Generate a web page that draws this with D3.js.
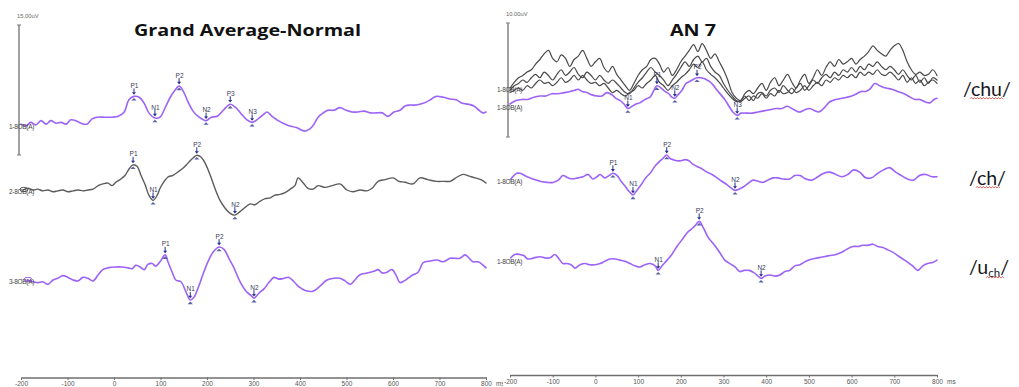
<!DOCTYPE html>
<html>
<head>
<meta charset="utf-8">
<script src="https://cdn.jsdelivr.net/npm/d3@7"></script>
<style>
  body { margin: 0; background: #fff; }
  svg { display: block; }
</style>
</head>
<body>
<svg id="chart" width="1019" height="387"></svg>
<script>
// ---------- time axis ----------
const timeTicks = [-200, -100, 0, 100, 200, 300, 400, 500, 600, 700, 800];
const timeTickLabels = ["-200", "-100", "0", "100", "200", "300", "400", "500", "600", "700", "800"];

// ---------- Grand Average-Normal : [ms, uV] ----------
const gaChannel1 = [[-200,0.1],[-189,-0.1],[-179,0.3],[-168,0],[-157,0.5],[-146,0.1],[-136,0.5],[-125,0.2],[-114,0.3],[-103,0.1],[-93,0.6],[-82,0.5],[-71,0.2],[-58,0.1],[-47,0.7],[-37,0.9],[-19,0.9],[-4,0.9],[9,1.0],[22,1.5],[32,2.9],[43,3.3],[54,3.2],[65,2.5],[75,1.4],[88,0.8],[99,0.9],[110,2.0],[121,3.2],[131,4.0],[140,4.5],[148,4.0],[159,2.7],[170,1.6],[183,0.9],[198,0.5],[209,0.9],[222,1.0],[235,1.7],[250,2.4],[262,2.0],[275,1.2],[286,0.6],[297,0.3],[310,0.7],[321,1.2],[329,1.5],[340,1.0],[353,0.5],[372,0],[392,-0.3],[411,-0.7],[426,-0.2],[439,0.9],[450,1.4],[460,1.7],[473,1.7],[486,2.0],[499,1.7],[512,1.5],[525,1.5],[538,1.6],[551,1.4],[564,1.4],[577,1.4],[589,1.0],[602,1.5],[615,1.7],[626,2.2],[637,2.3],[650,2.3],[665,2.5],[680,2.9],[693,3.3],[708,3.2],[723,3.0],[736,2.9],[749,2.5],[762,2.4],[774,2.2],[785,1.7],[794,1.4],[800,1.5]];
const gaChannel2 = [[-196,0],[-185,0.2],[-174,0],[-164,0.1],[-153,-0.1],[-142,0],[-131,-0.2],[-121,-0.1],[-110,0],[-99,-0.2],[-88,-0.1],[-77,0],[-67,-0.1],[-56,0],[-45,0.1],[-34,0.5],[-24,0.7],[-13,0.8],[-4,0.5],[4,0.9],[13,1.2],[24,1.7],[32,2.4],[41,2.9],[50,2.7],[58,1.7],[67,0.6],[75,-0.6],[84,-1.2],[93,-0.6],[99,0.2],[108,1.0],[116,1.5],[127,1.7],[138,2.1],[148,2.5],[159,3.1],[170,3.7],[178,4.0],[187,3.8],[196,3.1],[207,1.7],[217,0.2],[228,-1.2],[239,-2.1],[250,-2.7],[260,-2.9],[271,-2.5],[282,-2.0],[293,-1.6],[303,-1.7],[314,-1.3],[325,-1.0],[336,-0.9],[346,-0.6],[357,-0.5],[368,-0.3],[379,0.1],[389,0.5],[396,1.4],[407,0.8],[417,0.2],[428,0.1],[439,0.5],[454,0.3],[469,0.5],[486,0.7],[501,0],[514,-0.2],[529,0],[544,-0.1],[555,0.2],[568,1.0],[583,1.2],[600,1.4],[613,1.0],[626,0.9],[643,0.7],[658,1.4],[675,1.2],[693,1.0],[710,1.0],[723,1.0],[738,1.5],[751,1.8],[764,1.6],[777,1.4],[789,1.2],[800,0.8]];
const gaChannel3 = [[-187,0],[-174,-0.2],[-164,-0.3],[-153,-0.2],[-142,-0.5],[-131,0],[-121,0.2],[-110,0.5],[-99,0.3],[-88,0],[-77,-0.1],[-67,0.3],[-56,0.2],[-45,-0.1],[-34,0.6],[-24,1.2],[-13,1.4],[2,1.5],[17,1.5],[30,1.4],[39,1.3],[47,1.7],[56,1.5],[65,1.2],[73,1.8],[82,1.9],[90,1.6],[99,2.1],[110,2.9],[116,2.1],[125,0.9],[133,0],[144,-0.2],[155,-1.4],[164,-2.3],[172,-2.0],[181,-0.9],[191,0.6],[202,2.1],[213,3.2],[226,3.8],[237,3.5],[247,2.5],[258,1.4],[271,-0.2],[284,-1.3],[295,-1.8],[301,-2.1],[312,-1.5],[323,-1.0],[333,-0.3],[344,0.3],[355,0.1],[366,0.2],[376,0.3],[387,-0.2],[398,-0.8],[411,-1.2],[428,-1.3],[443,-0.7],[458,0],[473,0.2],[486,0.2],[497,-0.1],[508,-0.5],[518,0],[529,0.6],[544,0.8],[559,1.0],[568,1.2],[577,0.8],[587,0.9],[598,1.2],[607,0.5],[615,-0.3],[624,-0.1],[632,0.2],[643,0.6],[654,0.9],[665,2.0],[680,2.2],[695,2.3],[708,2.1],[723,2.5],[736,2.5],[744,2.5],[755,2.9],[764,2.5],[772,2.1],[783,2.1],[794,1.7],[800,1.4]];

// peak labels: [name, ms, uV]
const gaPeaks1 = [["P1",43,3.3],["N1",88,0.8],["P2",140,4.5],["N2",198,0.5],["P3",250,2.4],["N3",297,0.3]];
const gaPeaks2 = [["P1",41,2.9],["N1",84,-1.2],["P2",178,4.0],["N2",260,-2.9]];
const gaPeaks3 = [["P1",110,2.9],["N1",164,-2.3],["P2",226,3.8],["N2",301,-2.1]];

// ---------- AN 7 ----------
// single sweeps of /chu/, sampled every 10 ms from -200 ms
const sweepStepMs = 10;
const an7SweepA = [0,0.5,0.9,1.1,1.4,1.6,2.1,2.5,3.0,3.3,
  2.6,2.3,2.9,2.6,1.9,2.5,2.8,3.3,2.6,1.9,
  2.3,2.6,1.8,1.4,1.9,1.2,0.7,0.2,-0.2,0.4,
  1.1,1.6,1.9,2.5,2.6,2.1,1.4,1.8,1.1,1.6,
  2.3,2.8,3.3,3.8,3.2,3.9,3.3,2.6,3.0,2.3,
  1.6,0.7,-0.4,-0.9,-1.1,-0.5,-0.2,-0.5,0,0.4,
  -0.2,0.5,0.9,0.2,0.7,1.2,0.5,0,0.7,1.2,
  0.4,0.9,1.6,1.1,1.8,2.3,1.9,2.5,2.1,2.3,
  2.6,2.1,2.5,2.8,3.2,3.7,3.3,3.0,2.8,3.3,
  3.7,3.9,3.3,2.3,1.6,1.2,1.4,1.1,1.2,1.6,
  1.1];
const an7SweepB = [-0.2,0.2,0.4,0.7,0.5,0.9,1.2,0.9,1.4,1.1,
  0.7,1.2,1.6,1.1,1.4,1.8,1.2,0.9,1.4,1.1,
  0.7,1.1,0.7,0.4,0.7,0.4,0,-0.4,-0.5,0,
  0.5,0.9,1.4,1.8,1.4,1.1,0.7,0.2,0.7,1.2,
  1.8,2.3,1.9,2.5,2.8,2.3,2.6,1.9,1.4,1.1,
  0.4,-0.2,-0.7,-1.1,-1.2,-0.9,-0.7,-1.1,-0.5,-0.4,
  -0.7,-0.2,0,-0.4,0.2,-0.2,-0.5,0,0.4,-0.2,
  0.2,0.7,0.4,0.9,1.2,0.9,1.4,1.1,1.6,1.4,
  1.8,1.4,1.9,1.6,2.1,1.9,2.3,1.9,1.6,1.9,
  1.6,1.2,1.6,1.1,0.7,1.1,0.5,0.9,0.4,0.9,
  0.7];
const an7SweepC = [-0.4,-0.2,0,-0.2,0.2,0,0.4,0.7,0.4,0.5,
  0.2,0.5,0.9,0.5,0.7,1.1,0.7,1.1,0.7,0.4,
  0.5,0.2,0.4,0,-0.4,-0.2,-0.5,-0.7,-0.4,-0.2,
  0.2,0,0.4,0.7,1.1,0.5,0.2,-0.2,0.2,0.5,
  0.9,1.2,1.6,2.1,1.8,2.3,1.6,1.2,0.9,0.5,
  0,-0.5,-0.9,-1.2,-1.1,-0.7,-1.1,-0.7,-0.9,-0.5,
  -0.9,-0.5,-0.7,-0.2,-0.5,-0.4,0,-0.4,-0.2,0.2,
  -0.2,0.2,0.5,0.2,0.7,0.5,0.9,0.7,1.1,0.9,
  1.2,0.9,1.4,1.1,1.4,1.2,1.6,1.2,1.1,1.4,
  1.1,0.7,1.1,0.5,0.9,0.4,0.7,0.2,0.5,0.7,
  0.4];

// averaged traces: [ms, uV]
const an7Chu = [[-200,0],[-186,0.3],[-172,0.4],[-158,0.4],[-144,0.6],[-130,0.7],[-116,0.7],[-102,0.9],[-88,0.9],[-73,1.0],[-59,1.1],[-48,1.2],[-41,1.3],[-31,1.1],[-20,1.0],[-8,0.8],[4,0.7],[15,0.7],[27,1.0],[39,0.8],[48,0.5],[58,0.3],[67,0],[76,-0.4],[86,-0.2],[95,0],[104,0.1],[116,0.4],[128,0.6],[137,1.2],[144,1.6],[154,1.4],[163,1.1],[172,0.9],[179,0.6],[186,0.5],[193,0.8],[203,1.2],[212,1.8],[222,2.0],[231,2.2],[238,2.3],[247,2.3],[257,2.2],[266,2.0],[275,1.7],[285,1.2],[294,0.8],[303,0.4],[313,-0.2],[322,-0.7],[332,-1.0],[341,-0.8],[353,-0.8],[367,-0.8],[381,-0.7],[395,-0.6],[409,-0.5],[423,-0.4],[437,-0.4],[449,-0.2],[460,-0.4],[470,-0.6],[479,-0.7],[491,-0.5],[502,-0.4],[514,-0.6],[523,-0.7],[537,-0.3],[549,0.2],[563,0.4],[577,0.5],[589,0.6],[600,0.7],[612,0.9],[622,1.1],[633,1.1],[643,1.3],[654,1.8],[666,1.6],[680,1.4],[694,1.3],[708,1.1],[723,0.9],[737,0.6],[748,0.4],[760,0.4],[772,0.2],[783,0.1],[793,0.4],[800,0.5]];
const an7Ch = [[-198,0],[-191,0.3],[-184,0.5],[-177,0.5],[-170,0.4],[-160,0.2],[-146,0],[-130,-0.2],[-113,-0.3],[-99,-0.3],[-87,-0.1],[-76,0.3],[-64,0.1],[-52,0],[-41,0.1],[-29,0.2],[-17,0.4],[-6,0],[4,0.2],[11,0.4],[22,0.1],[32,0.3],[41,0.5],[51,0.3],[60,-0.2],[69,-0.6],[79,-1.1],[88,-1.4],[97,-1.0],[107,-0.5],[118,0.1],[130,0.6],[139,1.1],[149,1.5],[158,1.8],[167,2.1],[175,1.8],[182,1.7],[191,1.6],[200,1.6],[210,1.7],[219,1.6],[228,1.3],[238,1.1],[249,0.9],[261,0.6],[273,0.4],[285,0.1],[296,-0.2],[308,-0.5],[318,-0.8],[327,-1.0],[336,-0.9],[346,-0.7],[357,-0.4],[369,-0.1],[381,-0.2],[392,-0.3],[404,-0.1],[416,0.1],[427,0.1],[441,0],[455,0],[467,0.3],[479,0.3],[493,0],[507,-0.1],[521,0.2],[535,0.5],[549,0.6],[563,0.4],[577,0.2],[591,0.4],[605,0.8],[619,0.6],[633,0.1],[647,0.1],[661,0.5],[675,0.8],[689,1.0],[703,0.6],[717,0.3],[731,0],[745,-0.1],[759,0.3],[773,0.4],[788,0.2],[800,0.2]];
const an7Uch = [[-198,0.1],[-189,0.4],[-177,0.4],[-168,0.3],[-158,0],[-144,0.1],[-130,0.2],[-118,0.1],[-106,0.1],[-95,0.4],[-85,0],[-76,-0.4],[-67,-0.4],[-57,-0.5],[-48,-0.8],[-36,-0.5],[-24,-0.4],[-13,-0.5],[-1,-0.5],[11,-0.4],[22,-0.2],[34,0],[46,0],[58,-0.1],[69,-0.2],[81,-0.4],[93,-0.6],[104,-0.7],[116,-0.5],[128,-0.4],[140,-0.6],[147,-1.0],[156,-0.6],[168,-0.1],[179,0.4],[191,1.1],[203,1.7],[215,2.3],[224,2.6],[233,2.9],[243,3.3],[252,2.8],[264,1.9],[275,1.4],[285,0.9],[294,0.4],[303,-0.1],[315,-0.4],[327,-0.7],[338,-1.1],[348,-1.0],[360,-1.0],[371,-1.2],[381,-1.5],[388,-1.7],[397,-1.5],[409,-1.4],[421,-1.5],[432,-1.4],[444,-1.1],[455,-1.0],[467,-0.6],[479,-0.5],[493,-0.2],[507,0],[521,0.1],[535,0.2],[549,0.3],[563,0.4],[577,0.6],[591,0.9],[603,1.1],[615,1.1],[626,1.2],[638,1.2],[650,1.3],[661,1.1],[673,1.0],[685,0.8],[696,0.6],[708,0.3],[720,0],[732,-0.3],[743,-0.6],[755,-1.0],[767,-0.6],[778,-0.4],[790,-0.3],[800,-0.1]];

const an7Peaks1 = [["N1",76,-0.4],["P1",144,1.6],["N2",186,0.5],["P2",238,2.3],["N3",332,-1.0]];
const an7Peaks2 = [["P1",41,0.5],["N1",88,-1.4],["P2",167,2.1],["N2",327,-1.0]];
const an7Peaks3 = [["N1",147,-1.0],["P2",243,3.3],["N2",388,-1.7]];

// stimulus names shown at the right edge
const stimulusLabels = ["chu", "ch", "u"];

// ---------- drawing ----------
const svg = d3.select("#chart");
const PURPLE = "#9d63f7";
const GRAY = "#5c5c5c";
const MARK = "#24308f";
const SMALL_FONT = "'Liberation Sans', Arial, sans-serif";

function panel(opts) {
  const g = svg.append("g");
  if (opts.clipWidth) {
    const id = "clip" + opts.id;
    svg.append("clipPath").attr("id", id)
      .append("rect").attr("x", 0).attr("y", 0).attr("width", opts.clipWidth).attr("height", 387);
    g.attr("clip-path", `url(#${id})`);
  }
  const x = d3.scaleLinear().domain([-200, 800]).range(opts.xRange);
  // amplitude scale: scaleBar uV spans scaleBarPx pixels
  const amp = d3.scaleLinear().domain([0, opts.scaleBar]).range([0, opts.scaleBarPx]);

  // calibration bar
  const barX = opts.barX, barTop = opts.barTop, barBottom = barTop + amp(opts.scaleBar);
  g.append("line").attr("x1", barX).attr("x2", barX).attr("y1", barTop).attr("y2", barBottom)
    .attr("stroke", "#8a8a8a").attr("stroke-width", 1.6);
  [barTop, barBottom].forEach(yy => g.append("line")
    .attr("x1", barX - 2).attr("x2", barX + 2).attr("y1", yy).attr("y2", yy)
    .attr("stroke", "#8a8a8a").attr("stroke-width", 1.2));
  g.append("text").attr("x", barX - 2).attr("y", barTop - 7)
    .attr("font-family", SMALL_FONT).attr("font-size", 5.8).attr("fill", "#666")
    .text(opts.scaleBar.toFixed(2) + "uV");

  // title
  g.append("text").attr("x", opts.titleX).attr("y", opts.titleY).attr("text-anchor", "middle")
    .attr("font-family", "'Open Sans', Lato, sans-serif").attr("font-weight", "bold")
    .attr("font-size", opts.titleSize).attr("fill", "#111")
    .attr("textLength", opts.titleLength).attr("lengthAdjust", "spacingAndGlyphs")
    .text(opts.title);

  // time axis
  const axis = d3.axisBottom(x).tickValues(timeTicks)
    .tickFormat((d, i) => timeTickLabels[i]).tickSize(2.5).tickPadding(1.5).tickSizeOuter(0);
  const ax = g.append("g").attr("transform", `translate(0,${opts.axisY})`).call(axis);
  ax.select(".domain").attr("stroke", "#6f6f6f").attr("stroke-width", 1.6);
  ax.selectAll(".tick line").attr("stroke", "#6f6f6f");
  ax.selectAll(".tick text").attr("font-family", SMALL_FONT).attr("font-size", 6.5).attr("fill", "#555");
  g.append("text").attr("x", x(800) + 10).attr("y", opts.axisY + 8.5)
    .attr("font-family", SMALL_FONT).attr("font-size", 6.5).attr("fill", "#555").text("ms");

  return { g, x, amp };
}

function trace(p, base, data, color, width) {
  const line = d3.line()
    .x(d => p.x(d[0]))
    .y(d => base - p.amp(d[1]))
    .curve(d3.curveCatmullRom.alpha(0.5));
  p.g.append("path").datum(data).attr("d", line)
    .attr("fill", "none").attr("stroke", color).attr("stroke-width", width)
    .attr("stroke-linejoin", "round").attr("stroke-linecap", "round");
}

function rowLabel(p, xPos, y, text) {
  p.g.append("text").attr("x", xPos).attr("y", y + 2.5)
    .attr("font-family", SMALL_FONT).attr("font-size", 6.5).attr("fill", "#444")
    .attr("letter-spacing", -0.3).text(text);
}

function startLoop(p, base, first, color) {
  p.g.append("ellipse").attr("cx", p.x(first[0]) + 1).attr("cy", base - p.amp(first[1]) - 0.5)
    .attr("rx", 4).attr("ry", 2.2).attr("fill", "none").attr("stroke", color).attr("stroke-width", 1);
}

function peakMarks(p, base, peaks) {
  peaks.forEach(([name, t, v]) => {
    const px = p.x(t), py = base - p.amp(v);
    const m = p.g.append("g");
    m.append("text").attr("x", px + 0.5).attr("y", py - 8.5).attr("text-anchor", "middle")
      .attr("font-family", SMALL_FONT).attr("font-size", 6.5).attr("fill", "#3a3a5a").text(name);
    m.append("line").attr("x1", px).attr("x2", px).attr("y1", py - 8).attr("y2", py - 3)
      .attr("stroke", MARK).attr("stroke-width", 1);
    m.append("path").attr("d", `M${px - 2},${py - 4.2}L${px + 2},${py - 4.2}L${px},${py - 1.6}Z`).attr("fill", MARK);
    m.append("path").attr("d", `M${px - 2.6},${py + 4.2}L${px + 2.6},${py + 4.2}L${px},${py + 1.6}Z`)
      .attr("fill", "#3b4590").attr("opacity", 0.85);
  });
}

// ----- left panel -----
const L = panel({
  id: "L", clipWidth: 503, xRange: [21, 486], scaleBar: 15, scaleBarPx: 130,
  barX: 19, barTop: 25, title: "Grand Average-Normal", titleX: 247.5, titleY: 36,
  titleSize: 16, titleLength: 227, axisY: 377.5
});
const lBase = [125, 190, 280];
trace(L, lBase[0], gaChannel1, PURPLE, 1.6);
trace(L, lBase[1], gaChannel2, GRAY, 1.4);
trace(L, lBase[2], gaChannel3, PURPLE, 1.6);
startLoop(L, lBase[1], gaChannel2[0], GRAY);
startLoop(L, lBase[2], gaChannel3[0], PURPLE);
rowLabel(L, 9, lBase[0] + 1, "1-8OB(A)");
rowLabel(L, 9, lBase[1] + 1, "2-8OB(A)");
rowLabel(L, 9, lBase[2] + 1, "3-8OB(A)");
peakMarks(L, lBase[0], gaPeaks1);
peakMarks(L, lBase[1], gaPeaks2);
peakMarks(L, lBase[2], gaPeaks3);

// ----- right panel -----
const R = panel({
  id: "R", xRange: [510, 937], scaleBar: 10, scaleBarPx: 114,
  barX: 508, barTop: 23, title: "AN 7", titleX: 693, titleY: 36,
  titleSize: 16, titleLength: 46, axisY: 375
});
const sweepBase = 88;
const rBase = [104, 179, 259];
const toPairs = vals => vals.map((v, i) => [-200 + i * sweepStepMs, v]);
[an7SweepA, an7SweepB, an7SweepC].forEach(s => trace(R, sweepBase, toPairs(s), "#4a4a4a", 1.2));
trace(R, rBase[0], an7Chu, PURPLE, 1.6);
trace(R, rBase[1], an7Ch, PURPLE, 1.6);
trace(R, rBase[2], an7Uch, PURPLE, 1.6);
rowLabel(R, 497, sweepBase + 1, "1-8OB(A)");
rowLabel(R, 497, rBase[0] + 3, "1-8OB(A)");
rowLabel(R, 497, rBase[1] + 2, "1-8OB(A)");
rowLabel(R, 497, rBase[2] + 2, "1-8OB(A)");
peakMarks(R, rBase[0], an7Peaks1);
peakMarks(R, rBase[1], an7Peaks2);
peakMarks(R, rBase[2], an7Peaks3);

// ----- stimulus names with spell-check squiggles -----
const STIM_FONT = "Lato, 'Open Sans', sans-serif";
function squiggle(x0, x1, y) {
  const path = d3.path();
  path.moveTo(x0, y);
  let up = true;
  for (let xx = x0 + 1.5; xx <= x1; xx += 1.5) { path.lineTo(xx, up ? y - 1 : y + 0.6); up = !up; }
  svg.append("path").attr("d", path.toString()).attr("fill", "none")
    .attr("stroke", "#e0463c").attr("stroke-width", 0.8);
}
function stimText(xPos, y, parts) {
  const t = svg.append("text").attr("x", xPos).attr("y", y)
    .attr("font-family", STIM_FONT).attr("font-size", 19.5).attr("fill", "#15151c");
  parts.forEach(p => {
    const s = t.append("tspan").text(p.text);
    if (p.sub) s.attr("font-size", 11.5).attr("dy", 3);
    if (p.back) s.attr("dy", -3);
  });
  return t;
}
stimText(963, 95.5, [{ text: "/" + stimulusLabels[0] + "/" }]);
squiggle(970, 1003, 98.5);
stimText(969, 184.5, [{ text: "/" + stimulusLabels[1] + "/" }]);
squiggle(976, 1001, 187.5);
stimText(969, 273.5, [{ text: "/" + stimulusLabels[2] }, { text: "ch", sub: true }, { text: "/", back: true }]);
squiggle(986, 1004, 277.5);
</script>
</body>
</html>
